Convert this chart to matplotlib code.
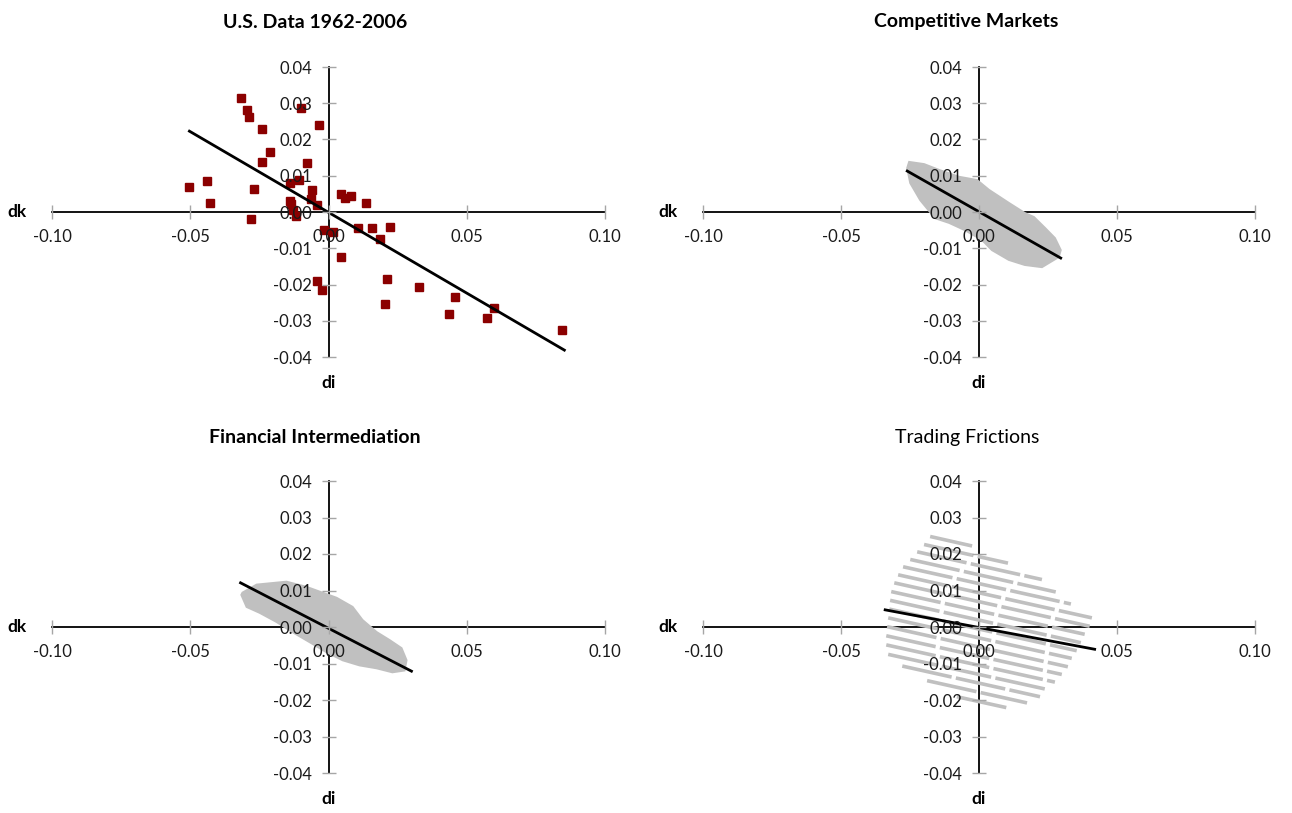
import matplotlib
matplotlib.use('Agg')
import matplotlib.pyplot as plt
from matplotlib.ticker import FormatStrFormatter

plt.rcParams['font.family'] = ['Lato', 'DejaVu Sans']
plt.rcParams['axes.unicode_minus'] = False

# Panel titles
titles = ['U.S. Data 1962-2006', 'Competitive Markets',
          'Financial Intermediation', 'Trading Frictions']
title_bold = [True, True, True, False]

x_ticks = [-0.10, -0.05, 0.00, 0.05, 0.10]
y_ticks = [-0.04, -0.03, -0.02, -0.01, 0.00, 0.01, 0.02, 0.03, 0.04]

# U.S. data (di, dk)
us_di = [-0.0503, -0.0441, -0.0427, -0.0318, -0.0293, -0.0286, -0.0282, -0.0268,
         -0.0242, -0.0213, -0.0239, -0.0141, -0.0108, -0.0141, -0.0134, -0.0127,
         -0.0119, -0.0098, -0.0036, -0.0076, -0.0058, -0.0065, -0.0043, 0.0047,
         0.0061, 0.0083, 0.0137, -0.0018, 0.0018, 0.0105, 0.0159, 0.0188,
         0.0224, 0.0047, -0.0040, -0.0022, 0.0213, 0.0206, 0.0329, 0.0459,
         0.0437, 0.0575, 0.0600, 0.0846]
us_dk = [0.0069, 0.0086, 0.0025, 0.0314, 0.0281, 0.0262, -0.0019, 0.0063,
         0.0229, 0.0166, 0.0138, 0.0080, 0.0088, 0.0030, 0.0022, 0.0006,
         -0.0011, 0.0287, 0.0240, 0.0135, 0.0061, 0.0036, 0.0019, 0.0050,
         0.0039, 0.0044, 0.0025, -0.0050, -0.0055, -0.0044, -0.0044, -0.0074,
         -0.0041, -0.0124, -0.0190, -0.0215, -0.0185, -0.0254, -0.0207, -0.0234,
         -0.0281, -0.0292, -0.0265, -0.0326]
us_fit_di = [-0.0503, 0.0853]
us_fit_dk = [0.0223, -0.0381]

# Competitive markets: outline of the simulated point cloud
cm_cloud_di = [-0.0253, -0.0199, -0.0145, -0.0072, -0.0007, 0.0036, 0.0108, 0.0166,
               0.0199, 0.0239, 0.0275, 0.0296, 0.0289, 0.0228, 0.0166, 0.0108,
               0.0047, 0.0011, -0.0051, -0.0108, -0.0159, -0.0213, -0.0249, -0.0260]
cm_cloud_dk = [0.0138, 0.0132, 0.0116, 0.0097, 0.0088, 0.0061, 0.0025, -0.0003,
               -0.0014, -0.0044, -0.0072, -0.0105, -0.0124, -0.0152, -0.0146, -0.0132,
               -0.0105, -0.0077, -0.0050, -0.0030, -0.0017, 0.0033, 0.0080, 0.0121]
cm_fit_di = [-0.0260, 0.0296]
cm_fit_dk = [0.0113, -0.0127]

# Financial intermediation: outline of the simulated point cloud
fi_cloud_di = [-0.0311, -0.0260, -0.0152, -0.0080, -0.0033, 0.0029, 0.0087, 0.0123,
               0.0174, 0.0221, 0.0264, 0.0282, 0.0275, 0.0231, 0.0174, 0.0112,
               0.0051, -0.0007, -0.0069, -0.0130, -0.0188, -0.0249, -0.0296, -0.0315]
fi_cloud_dk = [0.0094, 0.0116, 0.0124, 0.0110, 0.0097, 0.0080, 0.0055, 0.0019,
               -0.0014, -0.0036, -0.0058, -0.0091, -0.0119, -0.0124, -0.0113, -0.0105,
               -0.0091, -0.0069, -0.0041, -0.0014, 0.0014, 0.0039, 0.0055, 0.0088]
fi_fit_di = [-0.0318, 0.0300]
fi_fit_dk = [0.0121, -0.0121]

# Trading frictions: bands of simulated points (left and right ends)
tf_di_left = [-0.0177, -0.0199, -0.0224, -0.0249, -0.0275, -0.0293, -0.0307, -0.0318, -0.0322,
              -0.0325, -0.0329, -0.0333, -0.0336, -0.0336, -0.0329, -0.0278, -0.0188, -0.0080]
tf_dk_left = [0.0248, 0.0226, 0.0206, 0.0185, 0.0165, 0.0143, 0.0121, 0.0097, 0.0073,
              0.0049, 0.0025, 0.0001, -0.0024, -0.0049, -0.0075, -0.0107, -0.0147, -0.0191]
tf_di_right = [-0.0025, 0.0105, 0.0228, 0.0278, 0.0333, 0.0409, 0.0401, 0.0383, 0.0369,
               0.0354, 0.0336, 0.0322, 0.0300, 0.0275, 0.0246, 0.0221, 0.0174, 0.0112]
tf_dk_right = [0.0222, 0.0175, 0.0130, 0.0096, 0.0063, 0.0025, 0.0002, -0.0020, -0.0043,
               -0.0065, -0.0086, -0.0109, -0.0130, -0.0151, -0.0171, -0.0191, -0.0208, -0.0223]
tf_fit_di = [-0.0340, 0.0419]
tf_fit_dk = [0.0047, -0.0061]

W, H = 1292, 813
fig = plt.figure(figsize=(W / 100, H / 100), dpi=100)

# axes boxes in pixels: left, right, top, bottom
boxes = [(52, 605, 67, 357), (703, 1255, 67, 357),
         (52, 605, 481, 773), (703, 1255, 481, 773)]
title_pos = [(315, 22), (966, 22), (315, 437), (967, 437)]

gray = '#c0c0c0'
axes = []
for i, (l, r, t, b) in enumerate(boxes):
    ax = fig.add_axes([l / W, 1 - b / H, (r - l) / W, (b - t) / H])
    ax.set_xlim(-0.1, 0.1)
    ax.set_ylim(-0.04, 0.04)
    ax.patch.set_visible(False)
    ax.spines[['top', 'right']].set_visible(False)
    ax.spines['left'].set_position(('data', 0))
    ax.spines['bottom'].set_position(('data', 0))
    for s in ['left', 'bottom']:
        ax.spines[s].set_linewidth(1.3)
        ax.spines[s].set_zorder(1)
    ax.set_xticks(x_ticks)
    ax.set_yticks(y_ticks)
    ax.xaxis.set_major_formatter(FormatStrFormatter('%.2f'))
    ax.yaxis.set_major_formatter(FormatStrFormatter('%.2f'))
    ax.tick_params(direction='inout', length=10, width=1, color='#a6a6a6',
                   labelsize=12, pad=7, labelcolor='#1a1a1a')
    ax.xaxis.set_zorder(5)
    ax.yaxis.set_zorder(5)
    ax.annotate('dk', xy=(-0.10, 0), xytext=(-25, 0), textcoords='offset pixels',
                ha='right', va='center', fontsize=12.5, fontweight='bold')
    ax.annotate('di', xy=(0, -0.04), xytext=(0, -26), textcoords='offset pixels',
                ha='center', va='center', fontsize=12.5, fontweight='bold')
    fig.text(title_pos[i][0] / W, 1 - title_pos[i][1] / H, titles[i],
             ha='center', va='center', fontsize=14,
             fontweight='bold' if title_bold[i] else 'normal')
    axes.append(ax)

ax1, ax2, ax3, ax4 = axes

ax1.plot(us_di, us_dk, 's', color='#8b0000', markersize=6, zorder=3)
ax1.plot(us_fit_di, us_fit_dk, color='black', lw=2, zorder=4)

ax2.fill(cm_cloud_di, cm_cloud_dk, color=gray, lw=1.5, zorder=3)
ax2.plot(cm_fit_di, cm_fit_dk, color='black', lw=2, zorder=4)

ax3.fill(fi_cloud_di, fi_cloud_dk, color=gray, lw=1.5, zorder=3)
ax3.plot(fi_fit_di, fi_fit_dk, color='black', lw=2, zorder=4)

for xl, yl, xr, yr in zip(tf_di_left, tf_dk_left, tf_di_right, tf_dk_right):
    ax4.plot([xl, xr], [yl, yr], color=gray, lw=2.6, ls=(0, (14, 1.2)), zorder=3)
ax4.plot(tf_fit_di, tf_fit_dk, color='black', lw=2, zorder=4)

fig.savefig('out.png', dpi=100)
